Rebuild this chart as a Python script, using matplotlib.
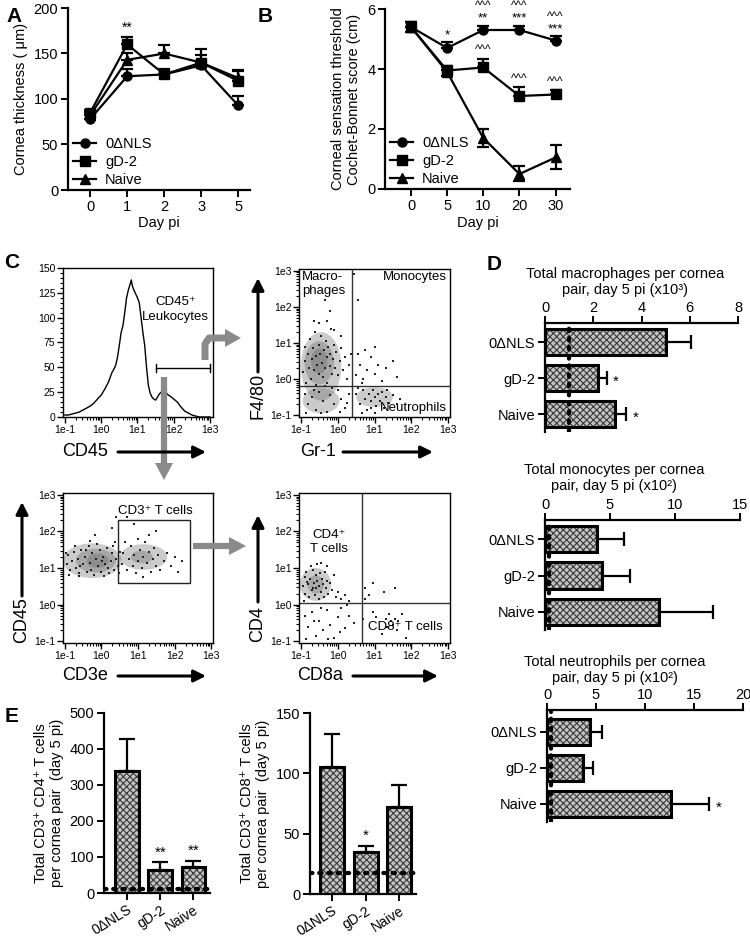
import numpy as np
import matplotlib
matplotlib.use("Agg")
import matplotlib.pyplot as plt
from matplotlib.patches import Ellipse, Rectangle, Polygon
from matplotlib.ticker import FixedLocator, MultipleLocator

plt.rcParams['font.family'] = ['Liberation Sans', 'DejaVu Sans']
plt.rcParams['hatch.linewidth'] = 0.8

# ---------------- data ----------------
groups = ['0ΔNLS', 'gD-2', 'Naive']

# A: cornea thickness
days_a = ['0', '1', '2', '3', '5']
thick_nls = [78, 125, 127, 137, 93]
thick_nls_err = [5, 8, 5, 5, 10]
thick_gd2 = [85, 160, 127, 140, 120]
thick_gd2_err = [3, 8, 6, 15, 12]
thick_naive = [82, 143, 150, 140, 123]
thick_naive_err = [4, 7, 9, 8, 8]
thick_stars = ['', '**', '', '', '']

# B: Cochet-Bonnet score
days_b = ['0', '5', '10', '20', '30']
cb_nls = [5.4, 4.7, 5.3, 5.3, 4.95]
cb_nls_err = [0.15, 0.2, 0.15, 0.15, 0.15]
cb_gd2 = [5.4, 3.95, 4.05, 3.1, 3.15]
cb_gd2_err = [0.15, 0.15, 0.3, 0.3, 0.15]
cb_naive = [5.4, 3.9, 1.7, 0.5, 1.05]
cb_naive_err = [0.15, 0.15, 0.3, 0.25, 0.4]
cb_nls_stars = ['', '*', '**', '***', '***']
cb_nls_carets = ['', '', '^^^', '^^^', '^^^']
cb_gd2_carets = ['', '', '^^^', '^^^', '^^^']

# C: CD45 histogram (log10 intensity, count)
hist_log = [-1.0, -0.9, -0.8, -0.7, -0.6, -0.5, -0.4, -0.3, -0.2, -0.1, 0.0,
            0.1, 0.2, 0.25, 0.3, 0.35, 0.4, 0.45, 0.5, 0.55, 0.6, 0.65, 0.7,
            0.75, 0.8, 0.83, 0.86, 0.9, 0.95, 1.0, 1.05, 1.1, 1.15, 1.2, 1.25,
            1.3, 1.35, 1.4, 1.45, 1.5, 1.55, 1.6, 1.65, 1.7, 1.75, 1.8, 1.85,
            1.9, 2.0, 2.1, 2.2, 2.3, 2.4, 2.5, 2.6, 2.7, 2.8, 2.9, 3.0]
hist_count = [2, 2, 3, 4, 5, 7, 9, 11, 14, 18, 22,
              28, 35, 40, 45, 48, 52, 60, 72, 85, 92, 105, 120,
              128, 134, 138, 132, 128, 124, 120, 115, 100, 85, 72, 50,
              32, 24, 20, 18, 17, 20, 23, 25, 24, 26, 24, 22,
              21, 18, 15, 10, 6, 4, 2, 1, 0, 0, 0, 0]
cd45_gate = [1.51, 3.0, 49]

# C: F4/80 vs Gr-1 events (log10)
mac_pts = [(-0.95, 0.2), (-0.9, 0.5), (-0.88, 0.9), (-0.85, -0.1), (-0.8, 0.7), (-0.78, 0.3),
           (-0.75, 1.1), (-0.72, 0.0), (-0.7, 0.55), (-0.68, 0.85), (-0.65, 0.25), (-0.62, 1.3),
           (-0.6, 0.65), (-0.58, -0.15), (-0.55, 0.4), (-0.52, 0.95), (-0.5, 0.15), (-0.48, 0.7),
           (-0.45, 1.2), (-0.42, 0.45), (-0.4, 0.05), (-0.38, 0.8), (-0.35, 0.3), (-0.32, 1.05),
           (-0.3, 0.6), (-0.28, -0.1), (-0.25, 0.9), (-0.22, 0.35), (-0.2, 0.7), (-0.18, 1.4),
           (-0.15, 0.15), (-0.12, 0.55), (-0.1, 0.95), (-0.08, 0.3), (-0.05, 0.75), (0.0, 0.1),
           (0.05, 0.5), (0.1, 0.85), (0.15, 0.25), (0.2, 0.6), (0.25, 0.0), (0.3, 0.4), (0.35, 0.7),
           (-0.3, 1.6), (-0.5, 1.55), (-0.2, 1.9), (-0.35, 2.2), (-0.1, 1.35), (0.1, 1.2), (-0.65, 1.6)]
low_pts = [(-0.9, -0.4), (-0.8, -0.7), (-0.7, -0.5), (-0.6, -0.85), (-0.5, -0.35), (-0.4, -0.6),
           (-0.3, -0.9), (-0.2, -0.45), (-0.1, -0.7), (0.0, -0.3), (0.1, -0.55), (0.2, -0.8),
           (0.3, -0.4), (-0.85, -0.95), (-0.45, -0.95), (-0.15, -0.25), (0.25, -0.65),
           (-0.65, -0.3), (-0.35, -0.2), (0.05, -0.9)]
neu_pts = [(0.5, -0.4), (0.6, -0.7), (0.7, -0.3), (0.75, -0.55), (0.8, -0.85), (0.85, -0.4),
           (0.9, -0.6), (0.95, -0.3), (1.0, -0.5), (1.05, -0.75), (1.1, -0.4), (1.15, -0.6),
           (1.2, -0.35), (1.25, -0.8), (1.3, -0.5), (1.4, -0.65), (1.5, -0.45), (1.6, -0.7),
           (0.65, -0.95), (1.0, -0.95), (1.35, -0.3), (1.7, -0.55), (0.55, -0.25), (0.9, -0.8)]
mono_pts = [(0.5, 0.1), (0.6, 0.4), (0.7, 0.0), (0.8, 0.25), (0.9, 0.6), (1.0, 0.15), (1.1, 0.4),
            (1.2, -0.05), (1.3, 0.3), (1.5, 0.5), (0.55, 0.7), (0.75, 0.8), (1.0, 0.9),
            (0.65, -0.1), (1.6, 0.05), (0.55, 2.2), (0.45, 2.9)]
gr1_gate = [0.40, -0.2]
gr1_cores = [(-0.45, 0.35, 1.1, 1.9), (-0.5, 0.45, 0.8, 1.2), (-0.5, 0.5, 0.45, 0.7),
             (-0.45, -0.6, 1.0, 0.7), (1.0, -0.5, 1.0, 0.55)]

# C: CD45 vs CD3e events (log10)
cd3_neg = [(-0.95, 1.1), (-0.9, 1.35), (-0.85, 0.95), (-0.8, 1.2), (-0.75, 1.45), (-0.7, 1.0),
           (-0.65, 1.25), (-0.6, 0.85), (-0.55, 1.5), (-0.5, 1.1), (-0.45, 1.3), (-0.4, 0.9),
           (-0.35, 1.6), (-0.3, 1.15), (-0.25, 1.4), (-0.2, 0.8), (-0.15, 1.25), (-0.1, 1.05),
           (-0.05, 1.5), (0.0, 0.9), (0.05, 1.3), (0.1, 1.1), (0.15, 1.55), (0.2, 0.85),
           (0.25, 1.2), (0.3, 1.4), (0.35, 0.95), (0.4, 1.25), (0.45, 1.05), (0.5, 1.45),
           (-0.88, 0.8), (-0.72, 1.6), (-0.58, 1.05), (-0.42, 1.5), (-0.28, 0.95), (-0.12, 1.65),
           (0.02, 1.2), (0.18, 1.0), (0.32, 1.6), (0.48, 0.85), (-0.98, 1.4), (-0.62, 0.78),
           (-0.32, 1.75), (0.08, 0.78), (0.38, 1.7), (-0.18, 1.9), (0.28, 2.1), (0.4, 2.4)]
cd3_pos = [(0.55, 1.1), (0.6, 1.4), (0.7, 0.95), (0.75, 1.25), (0.8, 1.6), (0.85, 1.05),
           (0.9, 1.35), (0.95, 0.85), (1.0, 1.2), (1.05, 1.5), (1.1, 1.0), (1.15, 1.3),
           (1.2, 1.7), (1.25, 1.15), (1.3, 1.45), (1.35, 0.9), (1.4, 1.25), (1.45, 1.55),
           (1.5, 1.05), (1.55, 1.35), (1.6, 0.95), (1.7, 1.2), (1.8, 1.4), (1.9, 1.05),
           (2.0, 1.3), (2.1, 0.9), (0.65, 1.7), (1.0, 1.8), (1.3, 1.9), (0.9, 2.2), (1.5, 2.0),
           (2.2, 1.2), (1.15, 0.75), (0.7, 2.4)]
cd3_gate = [0.46, 2.42, 0.6, 2.31]
cd3_cores = [(-0.25, 1.2, 1.6, 0.95), (-0.15, 1.2, 1.1, 0.65), (-0.1, 1.2, 0.6, 0.4),
             (1.15, 1.3, 1.3, 0.7), (1.1, 1.3, 0.6, 0.35)]

# C: CD4 vs CD8a events (log10)
cd4_pts = [(-0.95, 0.5), (-0.9, 0.75), (-0.88, 0.3), (-0.85, 0.9), (-0.8, 0.55), (-0.78, 0.2),
           (-0.75, 0.7), (-0.7, 0.4), (-0.68, 0.95), (-0.65, 0.6), (-0.62, 0.25), (-0.6, 0.8),
           (-0.58, 0.45), (-0.55, 0.65), (-0.52, 0.15), (-0.5, 0.5), (-0.48, 0.85), (-0.45, 0.35),
           (-0.42, 0.7), (-0.4, 0.55), (-0.38, 0.2), (-0.35, 0.9), (-0.32, 0.45), (-0.3, 0.65),
           (-0.28, 1.05), (-0.25, 0.3), (-0.2, 0.6), (-0.15, 0.4), (-0.1, 0.8), (-0.05, 0.2),
           (-0.92, 0.1), (-0.72, 1.05), (-0.57, 1.1), (-0.44, 1.15), (-0.66, 0.45), (-0.83, 0.62),
           (0.0, 0.35), (0.1, 0.15), (0.2, 0.25), (0.3, 0.1)]
dn_pts = [(-0.9, -0.3), (-0.8, -0.6), (-0.7, -0.2), (-0.6, -0.85), (-0.5, -0.45), (-0.4, -0.7),
          (-0.3, -0.15), (-0.2, -0.55), (-0.1, -0.9), (0.0, -0.35), (0.1, -0.1), (0.2, -0.65),
          (0.3, -0.3), (0.45, -0.5), (-0.85, -0.95), (-0.25, -0.95), (0.05, -0.75), (-0.65, -0.45),
          (0.25, 0.0), (-0.45, -0.1)]
cd8_pts = [(0.95, -0.2), (1.05, -0.35), (1.3, -0.4), (1.45, -0.45), (1.55, -0.4), (1.65, -0.45),
           (1.5, -0.55), (1.4, -0.25), (1.75, -0.25), (1.35, -0.6), (1.6, -0.7), (1.2, -0.8),
           (0.7, -0.4), (1.85, -0.9)]
dp_pts = [(0.75, 0.45), (0.95, 0.6), (1.25, 0.35), (1.55, 0.45), (0.85, 0.25), (0.75, 0.15)]
cd8_gate = [0.65, 0.05]
cd4_cores = [(-0.6, 0.55, 0.85, 0.9), (-0.6, 0.55, 0.45, 0.5)]

# D: totals per cornea pair
mac_vals = [5.0, 2.2, 2.9]
mac_top = [6.05, 2.55, 3.35]
mac_stars = ['', '*', '*']
mac_base = 1.0
mono_vals = [4.0, 4.4, 8.8]
mono_top = [6.1, 6.5, 12.9]
mono_stars = ['', '', '']
mono_base = 0.3
neu_vals = [4.4, 3.7, 12.7]
neu_top = [5.6, 4.7, 16.5]
neu_stars = ['', '', '*']
neu_base = 0.4

# E: T cells
cd4t_vals = [340, 65, 72]
cd4t_top = [428, 85, 90]
cd4t_stars = ['', '**', '**']
cd4t_base = 10
cd8t_vals = [105, 35, 72]
cd8t_top = [133, 40, 90]
cd8t_stars = ['', '*', '']
cd8t_base = 17

# ---------------- layout helpers ----------------
W, H = 750, 938
fig = plt.figure(figsize=(7.5, 9.38), dpi=100)


def box(x0, y0, x1, y1):
    return [x0 / W, 1 - y1 / H, (x1 - x0) / W, (y1 - y0) / H]


def prism_axes(ax, keep=('left', 'bottom')):
    for name, sp in ax.spines.items():
        sp.set_visible(name in keep)
        sp.set_linewidth(1.6)
    ax.tick_params(width=1.4, length=5, labelsize=10.5, pad=2)


def line_panel(ax, series, labels, xlabels):
    x = np.arange(len(xlabels))
    for (vals, err, both), mk, lab in zip(series, ['o', 's', '^'], labels):
        lo = err if both else np.zeros(len(err))
        ax.errorbar(x, vals, yerr=[lo, err], fmt='none', ecolor='k',
                    elinewidth=1.6, capsize=4, capthick=1.6)
        ax.plot(x, vals, color='k', marker=mk, ms=6.5, lw=1.6, label=lab)
    ax.set_xticks(x)
    ax.set_xticklabels(xlabels)
    ax.set_xlabel('Day pi', fontsize=10.5, labelpad=2)
    prism_axes(ax)
    ax.legend(loc='lower left', bbox_to_anchor=(-0.02, -0.03), frameon=False,
              fontsize=10.5, handlelength=1.6, handletextpad=0.6,
              labelspacing=0.25, borderaxespad=0.2)


# ---------------- A ----------------
axA = fig.add_axes(box(68, 8, 250, 190))
line_panel(axA, [(thick_nls, thick_nls_err, False), (thick_gd2, thick_gd2_err, False),
                 (thick_naive, thick_naive_err, False)], groups, days_a)
axA.set_xlim(-0.6, 4.32)
axA.set_ylim(0, 200)
axA.set_yticks([0, 50, 100, 150, 200])
axA.set_ylabel('Cornea thickness ( μm)', fontsize=10.5)
for i, s in enumerate(thick_stars):
    if s:
        axA.text(i, thick_gd2[i] + thick_gd2_err[i] + 3, s, ha='center', va='bottom', fontsize=10)

# ---------------- B ----------------
axB = fig.add_axes(box(385, 9, 570, 189))
line_panel(axB, [(cb_nls, cb_nls_err, False), (cb_gd2, cb_gd2_err, False),
                 (cb_naive, cb_naive_err, True)], groups, days_b)
axB.set_xlim(-0.72, 4.4)
axB.set_ylim(0, 6)
axB.set_yticks([0, 2, 4, 6])
axB.set_ylabel('Corneal sensation threshold\nCochet-Bonnet score (cm)', fontsize=10.5)
for i in range(len(days_b)):
    top = cb_nls[i] + cb_nls_err[i] + 0.02
    if cb_nls_stars[i]:
        axB.text(i, top, cb_nls_stars[i], ha='center', va='bottom', fontsize=9.5)
        top += 0.43
    if cb_nls_carets[i]:
        axB.text(i, top, cb_nls_carets[i], ha='center', va='bottom', fontsize=8.5)
    if cb_gd2_carets[i]:
        axB.text(i, cb_gd2[i] + cb_gd2_err[i] + 0.08, cb_gd2_carets[i],
                 ha='center', va='bottom', fontsize=8.5)

# ---------------- C: flow panels ----------------
decades = [-1, 0, 1, 2, 3]
dec_labels = ['1e-1', '1e0', '1e1', '1e2', '1e3']
log_minor = [np.log10(k) + d for d in range(-1, 3) for k in range(2, 10)]


def log_ticks(axis):
    axis.set_major_locator(FixedLocator(decades))
    axis.set_minor_locator(FixedLocator(log_minor))
    axis.set_ticklabels(dec_labels)


def flow_axes(rect):
    ax = fig.add_axes(rect)
    ax.set_xlim(-1.05, 3.05)
    ax.set_ylim(-1.05, 3.05)
    log_ticks(ax.xaxis)
    log_ticks(ax.yaxis)
    for sp in ax.spines.values():
        sp.set_linewidth(1.0)
    ax.tick_params(which='major', length=4, width=1, labelsize=7.5, pad=1.5)
    ax.tick_params(which='minor', length=2, width=0.8)
    return ax


def events(ax, pts_list, cores):
    for cx, cy, w, h in cores:
        ax.add_patch(Ellipse((cx, cy), w, h, color='#555555', alpha=0.3, lw=0))
    for pts in pts_list:
        xs, ys = zip(*pts)
        ax.scatter(xs, ys, s=3, c='#222222', marker='s', linewidths=0)


# histogram
axH = fig.add_axes(box(63, 268, 213, 417))
axH.plot(hist_log, hist_count, color='k', lw=1.0)
axH.set_xlim(-1.05, 3.08)
axH.set_ylim(0, 150)
log_ticks(axH.xaxis)
axH.yaxis.set_major_locator(FixedLocator([0, 25, 50, 75, 100, 125, 150]))
axH.yaxis.set_minor_locator(MultipleLocator(5))
for sp in axH.spines.values():
    sp.set_linewidth(1.0)
axH.tick_params(which='major', length=4, width=1, labelsize=7.5, pad=1.5)
axH.tick_params(which='minor', length=2, width=0.8)
g0, g1, gy = cd45_gate
axH.plot([g0, g1], [gy, gy], color='k', lw=1.0)
axH.plot([g0, g0], [gy - 4, gy + 4], color='k', lw=1.0)
axH.plot([g1, g1], [gy - 4, gy + 4], color='k', lw=1.0)
axH.text(2.05, 108, 'CD45⁺\nLeukocytes', ha='center', va='center', fontsize=9.5,
         linespacing=1.3)

# F4/80 vs Gr-1
axG = flow_axes(box(299, 269, 450, 417))
events(axG, [mac_pts, low_pts, neu_pts, mono_pts], gr1_cores)
axG.axvline(gr1_gate[0], color='#333333', lw=1.0)
axG.axhline(gr1_gate[1], color='#333333', lw=1.0)
axG.text(-0.97, 3.0, 'Macro-\nphages', ha='left', va='top', fontsize=9.5, linespacing=1.2)
axG.text(2.97, 3.0, 'Monocytes', ha='right', va='top', fontsize=9.5)
axG.text(2.97, -0.97, 'Neutrophils', ha='right', va='bottom', fontsize=9.5)

# CD45 vs CD3e
axT = flow_axes(box(63, 493, 213, 643))
events(axT, [cd3_neg, cd3_pos], cd3_cores)
x0, x1, y0, y1 = cd3_gate
axT.add_patch(Rectangle((x0, y0), x1 - x0, y1 - y0, fill=False, ec='#222222', lw=1.0))
axT.text(1.48, 2.57, 'CD3⁺ T cells', ha='center', va='center', fontsize=9.5)

# CD4 vs CD8a
axE8 = flow_axes(box(299, 493, 450, 643))
events(axE8, [cd4_pts, dn_pts, cd8_pts, dp_pts], cd4_cores)
axE8.axvline(cd8_gate[0], color='#333333', lw=1.0)
axE8.axhline(cd8_gate[1], color='#333333', lw=1.0)
axE8.text(-0.23, 1.7, 'CD4⁺\nT cells', ha='center', va='center', fontsize=9.5, linespacing=1.2)
axE8.text(1.83, -0.62, 'CD8⁺ T cells', ha='center', va='center', fontsize=9.5)


# ---------------- D ----------------
def hatched(ax, horizontal, pos, vals, size):
    draw = ax.barh if horizontal else ax.bar
    draw(pos, vals, size, color='#c4c4c4', hatch='xxxxx', edgecolor='#3a3a3a', lw=0)
    draw(pos, vals, size, fill=False, edgecolor='k', lw=2.2)


def hbar_panel(rect, vals, tops, stars, base, xmax, step, ylims):
    ax = fig.add_axes(rect)
    pos = np.arange(len(vals))
    hatched(ax, True, pos, vals, 0.72)
    err = np.array(tops) - np.array(vals)
    ax.errorbar(vals, pos, xerr=[np.zeros(len(vals)), err], fmt='none', ecolor='k',
                elinewidth=1.6, capsize=5, capthick=1.6)
    ax.plot([base, base], list(ylims), color='k', lw=3, ls=(0, (0.6, 1.6)),
            dash_capstyle='round', zorder=4)
    for p, t, s in zip(pos, tops, stars):
        if s:
            ax.text(t + xmax * 0.035, p + 0.1, s, ha='left', va='center', fontsize=11)
    ax.set_xlim(0, xmax)
    ax.set_ylim(*ylims)
    ax.xaxis.tick_top()
    ax.set_xticks(np.arange(0, xmax + step / 2, step))
    ax.set_yticks(pos)
    ax.set_yticklabels(groups)
    prism_axes(ax, keep=('left', 'top'))
    ax.tick_params(axis='x', pad=1)
    return ax


hbar_panel(box(545, 323, 738, 432), mac_vals, mac_top, mac_stars, mac_base, 8, 2, (2.5, -0.53))
hbar_panel(box(545, 520, 740, 630), mono_vals, mono_top, mono_stars, mono_base, 15, 5, (2.5, -0.53))
hbar_panel(box(547, 710, 743, 822), neu_vals, neu_top, neu_stars, neu_base, 20, 5, (2.5, -0.6))


# ---------------- E ----------------
def vbar_panel(rect, vals, tops, stars, base, ymax, step, xlims, ylabel):
    ax = fig.add_axes(rect)
    pos = np.arange(len(vals))
    hatched(ax, False, pos, vals, 0.72)
    err = np.array(tops) - np.array(vals)
    ax.errorbar(pos, vals, yerr=[np.zeros(len(vals)), err], fmt='none', ecolor='k',
                elinewidth=1.6, capsize=6, capthick=1.6)
    ax.plot(list(xlims), [base, base], color='k', lw=3, ls=(0, (0.6, 1.6)),
            dash_capstyle='round', zorder=4)
    for p, t, s in zip(pos, tops, stars):
        if s:
            ax.text(p, t + ymax * 0.015, s, ha='center', va='bottom', fontsize=11)
    ax.set_xlim(*xlims)
    ax.set_ylim(0, ymax)
    ax.set_yticks(np.arange(0, ymax + step / 2, step))
    ax.set_xticks(pos)
    prism_axes(ax)
    ax.set_xticklabels(groups, rotation=32, ha='right', rotation_mode='anchor', fontsize=10)
    ax.set_ylabel(ylabel, fontsize=10.5, linespacing=1.15)
    return ax


vbar_panel(box(104, 713, 210, 893), cd4t_vals, cd4t_top, cd4t_stars, cd4t_base, 500, 100,
           (-0.7, 2.5), 'Total CD3⁺ CD4⁺ T cells\nper cornea pair  (day 5 pi)')
vbar_panel(box(310, 713, 416, 894), cd8t_vals, cd8t_top, cd8t_stars, cd8t_base, 150, 50,
           (-0.66, 2.5), 'Total CD3⁺ CD8⁺ T cells\nper cornea pair  (day 5 pi)')

# ---------------- overlay: letters, titles, arrows ----------------
ov = fig.add_axes([0, 0, 1, 1])
ov.set_xlim(0, W)
ov.set_ylim(H, 0)
ov.axis('off')
ov.patch.set_alpha(0)

for letter, (lx, ly) in zip('ABCDE', [(14, 16), (265, 16), (12, 263), (494, 265), (12, 716)]):
    ov.text(lx, ly, letter, fontsize=15, fontweight='bold', ha='center', va='center')

d_titles = ['Total macrophages per cornea\npair, day 5 pi (x10³)',
            'Total monocytes per cornea\npair, day 5 pi (x10²)',
            'Total neutrophils per cornea\npair, day 5 pi (x10²)']
for t, (tx, ty) in zip(d_titles, [(625, 282), (614, 478), (615, 670)]):
    ov.text(tx, ty, t, ha='center', va='center', fontsize=10.5, linespacing=1.2)

# axis names with black arrows
black = dict(arrowstyle='-|>', lw=2.2, color='k', mutation_scale=18, shrinkA=0, shrinkB=0)
for name, (tx, ty), (a0, a1) in [('CD45', (85, 452), ((118, 452), (206, 452))),
                                 ('Gr-1', (318, 452), ((343, 452), (433, 452))),
                                 ('CD3e', (85, 676), ((118, 676), (206, 676))),
                                 ('CD8a', (320, 676), ((353, 676), (438, 676)))]:
    ov.text(tx, ty, name, ha='center', va='center', fontsize=13)
    ov.annotate('', xy=a1, xytext=a0, arrowprops=black)
for name, (tx, ty), (a0, a1) in [('F4/80', (258, 396), ((258, 372), (258, 278))),
                                 ('CD45', (22, 620), ((22, 596), (22, 502))),
                                 ('CD4', (258, 624), ((258, 602), (258, 515)))]:
    ov.text(tx, ty, name, ha='center', va='center', fontsize=13, rotation=90)
    ov.annotate('', xy=a1, xytext=a0, arrowprops=black)

# gray gating arrows
gray = '#8a8a8a'
ov.plot([205, 205, 209, 226], [360, 344, 338, 338], color=gray, lw=5,
        solid_capstyle='butt', solid_joinstyle='round')
ov.add_patch(Polygon([(225, 329), (241, 338), (225, 347)], closed=True, color=gray, lw=0))
ov.plot([164, 164], [377, 464], color=gray, lw=4.5, solid_capstyle='butt')
ov.add_patch(Polygon([(155, 463), (164, 480), (173, 463)], closed=True, color=gray, lw=0))
ov.plot([193, 230], [546, 546], color=gray, lw=4.5, solid_capstyle='butt')
ov.add_patch(Polygon([(229, 537), (246, 546), (229, 555)], closed=True, color=gray, lw=0))

fig.savefig('out.png', dpi=100)
